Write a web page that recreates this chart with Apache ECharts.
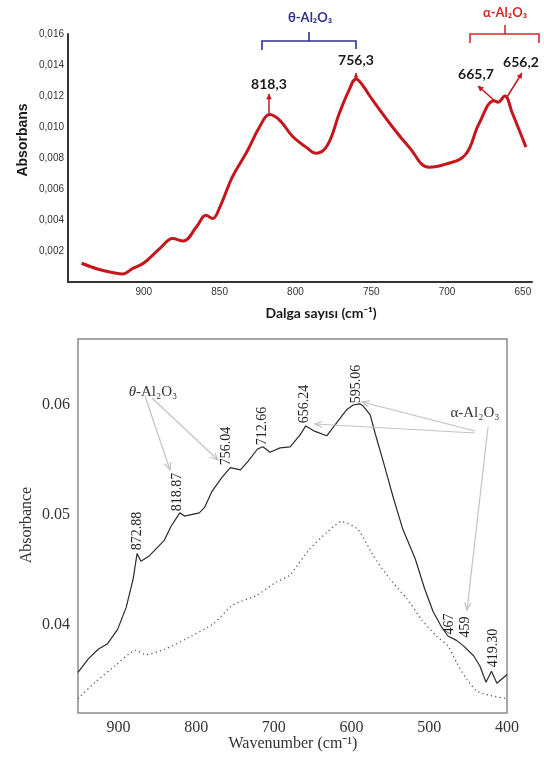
<!DOCTYPE html>
<html>
<head>
<meta charset="utf-8">
<script src="https://cdn.jsdelivr.net/npm/echarts@6/dist/echarts.min.js"></script>
<style>html,body{margin:0;padding:0;background:#fff}#c{width:544px;height:764px}</style>
</head>
<body>
<div id="c"></div>
<script>
// ---- Top chart (Absorbans vs Dalga sayısı) ----
const topWn  = [941, 930, 920, 914, 907, 900, 889, 881, 874, 865, 859, 854.6, 850, 841.5, 832, 823.7, 817, 810, 802, 793, 786.4, 779, 771, 765, 760, 755, 751, 736, 725, 712, 701, 688, 679, 669, 666.4, 662, 657, 648];
const topVal = [0.00121, 0.00082, 0.0006, 0.00052, 0.00089, 0.00123, 0.0022, 0.0028, 0.00265, 0.0036, 0.0043, 0.0041, 0.0048, 0.0068, 0.0084, 0.0100, 0.0108, 0.0104, 0.0094, 0.0087, 0.0083, 0.0088, 0.0109, 0.0123, 0.0131, 0.0126, 0.0120, 0.0100, 0.0087, 0.0074, 0.0076, 0.0082, 0.0102, 0.0117, 0.0116, 0.0120, 0.0109, 0.0087];
const topXTicks = [900, 850, 800, 750, 700, 650];

// ---- Bottom chart (Absorbance vs Wavenumber) ----
const botWn  = [952, 939, 926, 914, 901, 890, 881, 876, 871, 860, 841, 832, 821, 815, 796, 789, 780, 767, 756, 743, 733, 721, 714, 705, 692, 679, 666, 659, 647, 632, 619, 606, 598, 589, 585, 576, 570, 559, 546, 534, 518, 506, 495, 484, 476, 465, 456, 443, 435, 427, 420, 413, 400];
const botVal = [0.0357, 0.0369, 0.0378, 0.0383, 0.0396, 0.0416, 0.0442, 0.0465, 0.0458, 0.0463, 0.0477, 0.0490, 0.0502, 0.0499, 0.0502, 0.0507, 0.0521, 0.0534, 0.0543, 0.0541, 0.0549, 0.0560, 0.0562, 0.0557, 0.0561, 0.0562, 0.0573, 0.0581, 0.0576, 0.0572, 0.0584, 0.0596, 0.0600, 0.0601, 0.0599, 0.0591, 0.0575, 0.0548, 0.0515, 0.0487, 0.0460, 0.0433, 0.0412, 0.0398, 0.0390, 0.0386, 0.0381, 0.0372, 0.0363, 0.0348, 0.0358, 0.0347, 0.0355];
const dotWn  = [952, 930, 904, 878, 864, 840, 814, 778, 753, 722, 697, 680, 654, 632, 613, 592, 572, 551, 529, 510, 491, 476, 465, 452, 439, 422, 400];
const dotVal = [0.0333, 0.0348, 0.0363, 0.0377, 0.0373, 0.0378, 0.0387, 0.0401, 0.0418, 0.0427, 0.0439, 0.0445, 0.0469, 0.0484, 0.0494, 0.0487, 0.0463, 0.0442, 0.0424, 0.0405, 0.0390, 0.0381, 0.0366, 0.0351, 0.0340, 0.0336, 0.0333];
const botXTicks = [900, 800, 700, 600, 500, 400];
const botYTicks = [0.04, 0.05, 0.06];

const pairs = (xs, ys) => xs.map((x, i) => [x, ys[i]]);

const SANS = 'Liberation Sans';
const CAL = 'Lato';
const SERIF = 'Liberation Serif';

function txt(x, y, s, o) {
  o = o || {};
  return {
    type: 'text', x: x, y: y, rotation: o.rot || 0, z: 10,
    style: {
      text: s, fill: o.color || '#222',
      font: (o.style || '') + ' ' + (o.weight || 'normal') + ' ' + (o.size || 12) + 'px "' + (o.family || SANS) + '"',
      align: 'center', verticalAlign: 'middle', rich: o.rich
    }
  };
}
function poly(points, color, w) {
  return { type: 'polyline', z: 10, shape: { points: points }, style: { stroke: color, lineWidth: w, fill: null } };
}
function arrow(x1, y1, x2, y2, color, w, h, filled) {
  const a = Math.atan2(y2 - y1, x2 - x1);
  const sp = filled ? 0.5 : 0.4;
  const p1 = [x2 - h * Math.cos(a - sp), y2 - h * Math.sin(a - sp)];
  const p2 = [x2 - h * Math.cos(a + sp), y2 - h * Math.sin(a + sp)];
  const els = [poly([[x1, y1], [x2, y2]], color, w)];
  if (filled) {
    els.push({ type: 'polygon', z: 10, shape: { points: [p1, [x2, y2], p2] }, style: { fill: color } });
  } else {
    els.push(poly([p1, [x2, y2], p2], color, w));
  }
  return els;
}

const RED = '#c4161c';
const BLUE = '#2e3192';
const AR = '#d22a2a';
const GREY = '#c2c2c2';

const graphics = [
  // top axis names
  txt(23, 140, 'Absorbans', { rot: Math.PI / 2, weight: 'bold', size: 14, family: SANS, color: '#1a1a1a' }),
  txt(321, 313, 'Dalga sayısı (cm⁻¹)', { weight: 'bold', size: 14, family: CAL, color: '#1a1a1a' }),
  // top peak labels
  txt(269, 84, '818,3', { weight: 'bold', size: 14, family: CAL, color: '#1a1a1a' }),
  txt(356, 60, '756,3', { weight: 'bold', size: 14, family: CAL, color: '#1a1a1a' }),
  txt(476, 74, '665,7', { weight: 'bold', size: 14, family: CAL, color: '#1a1a1a' }),
  txt(521, 62, '656,2', { weight: 'bold', size: 14, family: CAL, color: '#1a1a1a' }),
  ...arrow(269, 114, 269, 94, RED, 1.5, 6, true),
  ...arrow(356, 80, 356, 73, RED, 1.5, 5, true),
  ...arrow(495, 101, 478, 86, RED, 1.5, 6, true),
  ...arrow(507, 97, 522, 73, RED, 1.5, 6, true),
  // brackets
  poly([[262, 50], [262, 41], [356, 41], [356, 49]], BLUE, 1.6),
  poly([[309, 41], [309, 32]], BLUE, 1.6),
  txt(310, 18, 'θ-Al₂O₃', { weight: 'bold', size: 13, family: CAL, color: BLUE }),
  poly([[470, 43], [470, 34], [539, 34], [539, 43]], AR, 1.6),
  poly([[505, 34], [505, 25]], AR, 1.6),
  txt(505, 13, 'α-Al₂O₃', { weight: 'bold', size: 13, family: CAL, color: AR }),

  // bottom axis names
  txt(27, 525, 'Absorbance', { rot: Math.PI / 2, size: 16, family: SERIF, color: '#333' }),
  txt(293, 744, 'Wavenumber (cm⁻¹)', { size: 16, family: SERIF, color: '#333' }),
  // bottom rotated peak labels
  txt(137, 531, '872.88', { rot: Math.PI / 2, size: 14, family: SERIF, color: '#222' }),
  txt(177, 492, '818.87', { rot: Math.PI / 2, size: 14, family: SERIF, color: '#222' }),
  txt(226, 446, '756.04', { rot: Math.PI / 2, size: 14, family: SERIF, color: '#222' }),
  txt(262, 426, '712.66', { rot: Math.PI / 2, size: 14, family: SERIF, color: '#222' }),
  txt(304, 404, '656.24', { rot: Math.PI / 2, size: 14, family: SERIF, color: '#222' }),
  txt(356, 384, '595.06', { rot: Math.PI / 2, size: 14, family: SERIF, color: '#222' }),
  txt(449, 624, '467', { rot: Math.PI / 2, size: 14, family: SERIF, color: '#222' }),
  txt(465, 627, '459', { rot: Math.PI / 2, size: 14, family: SERIF, color: '#222' }),
  txt(493, 648, '419.30', { rot: Math.PI / 2, size: 14, family: SERIF, color: '#222' }),
  // phase labels
  txt(153, 392, '{i|θ}-Al₂O₃', { size: 15, family: SERIF, color: '#333',
      rich: { i: { fontStyle: 'italic', fontSize: 15, fontFamily: SERIF, fill: '#333' } } }),
  txt(475, 413, 'α-Al₂O₃', { size: 15, family: SERIF, color: '#333' }),
  // grey arrows
  ...arrow(145, 396, 170, 470, GREY, 1.2, 8, false),
  ...arrow(152, 398, 218, 460, GREY, 1.2, 8, false),
  ...arrow(475, 431, 362, 402, GREY, 1.2, 8, false),
  ...arrow(475, 433, 315, 424, GREY, 1.2, 8, false),
  ...arrow(488, 427, 467, 610, GREY, 1.2, 8, false)
];

const chart = echarts.init(document.getElementById('c'), null, { renderer: 'canvas' });
chart.setOption({
  animation: false,
  backgroundColor: '#fff',
  grid: [
    { left: 68, right: 12, top: 34, bottom: 482, show: false },
    { left: 78, right: 37, top: 339, bottom: 51, show: true, borderColor: '#8a8a8a', borderWidth: 1.5, backgroundColor: 'transparent' }
  ],
  xAxis: [
    { type: 'value', gridIndex: 0, inverse: true, min: 644, max: 950,
      axisLine: { show: true, onZero: false, lineStyle: { color: '#333', width: 2 } },
      axisTick: { show: false }, splitLine: { show: false },
      axisLabel: { customValues: topXTicks, fontSize: 10, color: '#333', fontFamily: SANS, margin: 5 } },
    { type: 'value', gridIndex: 1, inverse: true, min: 400, max: 952,
      axisLine: { show: false }, axisTick: { show: false }, splitLine: { show: false },
      axisLabel: { customValues: botXTicks, fontSize: 16, color: '#333', fontFamily: SERIF, margin: 7 } }
  ],
  yAxis: [
    { type: 'value', gridIndex: 0, min: 0, max: 0.016, interval: 0.002,
      axisLine: { show: true, onZero: false, lineStyle: { color: '#333', width: 2 } },
      axisTick: { show: false }, splitLine: { show: false },
      axisLabel: { fontSize: 10, color: '#333', fontFamily: SANS, margin: 4,
        formatter: v => v === 0 ? '' : v.toFixed(3).replace('.', ',') } },
    { type: 'value', gridIndex: 1, min: 0.032, max: 0.066,
      axisLine: { show: false }, axisTick: { show: false }, splitLine: { show: false },
      axisLabel: { customValues: botYTicks, fontSize: 16, color: '#333', fontFamily: SERIF, margin: 8,
        formatter: v => v.toFixed(2) } }
  ],
  series: [
    { type: 'line', xAxisIndex: 0, yAxisIndex: 0, data: pairs(topWn, topVal), smooth: 0.4,
      showSymbol: false, lineStyle: { color: RED, width: 3 } },
    { type: 'line', xAxisIndex: 1, yAxisIndex: 1, data: pairs(botWn, botVal),
      showSymbol: false, lineStyle: { color: '#2a2a2a', width: 1.2 } },
    { type: 'line', xAxisIndex: 1, yAxisIndex: 1, data: pairs(dotWn, dotVal), smooth: 0.2,
      showSymbol: false, lineStyle: { color: '#555', width: 1.3, type: [1.2, 3.2] } }
  ],
  graphic: graphics
});
</script>
</body>
</html>
